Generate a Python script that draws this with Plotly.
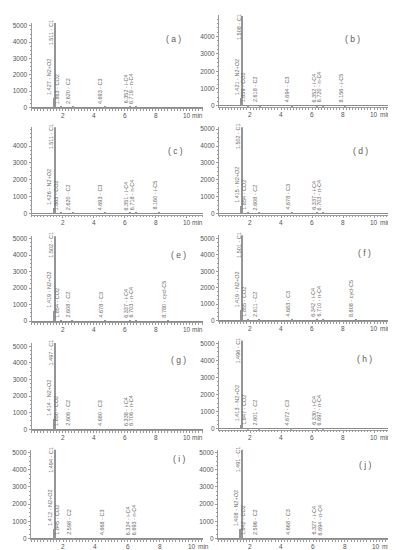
import plotly.graph_objects as go

# ---------------- data ----------------
panel_names = ["a", "b", "c", "d", "e", "f", "g", "h", "i", "j"]

comp7 = ["N2+O2", "C1", "CO2", "C2", "C3", "i-C4", "n-C4"]
comp_ic5 = comp7 + ["i-C5"]
comp_cy5 = comp7 + ["cycl-C5"]

rt_a = [1.427, 1.511, 1.863, 2.620, 4.693, 6.352, 6.719]
rt_b = [1.421, 1.508, 1.859, 2.618, 4.694, 6.352, 6.720, 8.156]
rt_c = [1.426, 1.511, 1.863, 2.620, 4.693, 6.351, 6.718, 8.160]
rt_d = [1.415, 1.502, 1.854, 2.608, 4.678, 6.337, 6.703]
rt_e = [1.419, 1.502, 1.854, 2.608, 4.678, 6.337, 6.703, 8.780]
rt_f = [1.419, 1.501, 1.855, 2.611, 4.683, 6.342, 6.710, 8.808]
rt_g = [1.414, 1.497, 1.850, 2.606, 4.680, 6.338, 6.706]
rt_h = [1.413, 1.496, 1.847, 2.601, 4.672, 6.330, 6.697]
rt_i = [1.412, 1.494, 1.845, 2.598, 4.668, 6.324, 6.693]
rt_j = [1.408, 1.491, 1.842, 2.596, 4.668, 6.327, 6.694]

h_a = [550, 5200, 30, 30, 30, 30, 30]
h_b = [450, 5200, 30, 30, 30, 30, 30, 30]
h_c = [300, 5200, 30, 30, 30, 30, 30, 30]
h_d = [450, 5200, 30, 30, 30, 30, 30]
h_e = [600, 5200, 30, 30, 30, 30, 30, 30]
h_f = [600, 5200, 30, 30, 30, 30, 30, 30]
h_g = [650, 5200, 30, 30, 30, 30, 30]
h_h = [250, 5200, 30, 30, 30, 30, 30]
h_i = [550, 5200, 30, 30, 30, 30, 30]
h_j = [550, 5200, 30, 30, 30, 30, 30]

comps = [comp7, comp_ic5, comp_ic5, comp7, comp_cy5, comp_cy5, comp7, comp7, comp7, comp7]
rts = [rt_a, rt_b, rt_c, rt_d, rt_e, rt_f, rt_g, rt_h, rt_i, rt_j]
hs = [h_a, h_b, h_c, h_d, h_e, h_f, h_g, h_h, h_i, h_j]

x_tickvals = [2, 4, 6, 8, 10]
x_ticktext = ["2", "4", "6", "8", "10"]
x_unit = "min"
y_ticks_full = [0, 1000, 2000, 3000, 4000, 5000]
y_ticks_4k = [0, 1000, 2000, 3000, 4000]

# ---------------- layout geometry (pixels) ----------------
W, H = 396, 550
# x_left, x_right, xmax, y_zero_px, px_per_1000, top_px, yticks, letter_x, letter_y
geo = [
    (23.5, 195, 11.06, 98.0, 16.4, 13, y_ticks_full, 165, 29),
    (211, 380, 10.90, 96.7, 17.5, 5, y_ticks_4k, 344, 29),
    (23.5, 195, 11.06, 205.0, 17.0, 118, y_ticks_4k, 167, 142),
    (211, 380, 10.90, 205.0, 17.0, 118, y_ticks_full, 352, 142),
    (23.5, 195, 11.06, 313.3, 16.6, 228, y_ticks_full, 170, 247),
    (211, 380, 10.90, 312.7, 16.5, 227, y_ticks_full, 356, 245),
    (23.5, 195, 11.06, 422.3, 16.7, 335, y_ticks_full, 170, 353),
    (211, 380, 10.90, 421.7, 17.2, 333, y_ticks_full, 356, 352),
    (23.0, 195, 10.68, 532.3, 17.3, 443, y_ticks_full, 171, 452),
    (210, 381, 10.80, 532.3, 17.3, 443, y_ticks_full, 357, 458),
]
YMIN = -60
C1_LABEL_Y = 3650
XLAB_SHIFT = -7.5

axis_col = "#9a9a9a"
text_col = "#555555"
label_col = "#6a6a6a"
peak_col = "#959595"
font_fam = "Liberation Sans, Arial, sans-serif"
tick_font = dict(size=6.5, color=text_col, family=font_fam)

fig = go.Figure()
layout = {}
annotations = []

for k, (name, comp, rt, hh, g) in enumerate(zip(panel_names, comps, rts, hs, geo)):
    n = k + 1
    sfx = "" if n == 1 else str(n)
    xl, xr, xmax, y0, step, top, yticks, lx, ly = g
    ymax = (y0 - top) / step * 1000.0
    bottom = y0 - YMIN * step / 1000.0

    fig.add_trace(go.Bar(
        x=rt, y=hh, width=0.065,
        marker=dict(color=peak_col, line=dict(width=0)),
        xaxis="x" + sfx, yaxis="y" + sfx, showlegend=False, hoverinfo="skip",
    ))

    layout["xaxis" + sfx] = dict(
        domain=[xl / W, xr / W], range=[0, xmax], anchor="y" + sfx,
        showline=True, linecolor=axis_col, linewidth=1,
        showgrid=False, zeroline=False,
        tickmode="array", tickvals=x_tickvals, showticklabels=False,
        ticks="outside", ticklen=2, tickcolor=axis_col, tickwidth=1,
        minor=dict(tickmode="linear", tick0=0, dtick=0.2, ticks="outside",
                   ticklen=1.5, tickcolor=axis_col, showgrid=False),
        fixedrange=True,
    )
    layout["yaxis" + sfx] = dict(
        domain=[1 - bottom / H, 1 - top / H], range=[YMIN, ymax], anchor="x" + sfx,
        showline=True, linecolor=axis_col, linewidth=1,
        showgrid=False, zeroline=True, zerolinecolor="#8a8a8a", zerolinewidth=1,
        tickmode="array", tickvals=yticks, ticktext=[str(v) for v in yticks],
        ticks="outside", ticklen=2, tickcolor=axis_col, tickwidth=1,
        minor=dict(tickmode="linear", tick0=0, dtick=250, ticks="outside",
                   ticklen=1, tickcolor=axis_col, showgrid=False),
        tickfont=tick_font,
        fixedrange=True,
    )

    # x tick labels (drawn at the axis tick values)
    for tv, tt in zip(x_tickvals, x_ticktext):
        annotations.append(dict(
            x=tv, y=0, xref="x" + sfx, yref="y" + sfx + " domain",
            text=tt, showarrow=False, xanchor="center", yanchor="middle",
            yshift=XLAB_SHIFT, font=tick_font,
        ))
    # unit after the last tick
    annotations.append(dict(
        x=x_tickvals[-1], y=0, xref="x" + sfx, yref="y" + sfx + " domain",
        text=x_unit, showarrow=False, xanchor="left", yanchor="middle",
        xshift=3.5, yshift=XLAB_SHIFT, font=tick_font,
    ))

    # panel letter
    annotations.append(dict(
        x=lx / W, y=1 - ly / H, xref="paper", yref="paper",
        text="( " + name + " )", showarrow=False, xanchor="center", yanchor="middle",
        font=dict(size=8.5, color="#5a5a5a", family=font_fam),
    ))

    # peak labels
    for t, hv, c in zip(rt, hh, comp):
        yl = C1_LABEL_Y if c == "C1" else hv
        annotations.append(dict(
            x=t, y=yl, xref="x" + sfx, yref="y" + sfx,
            text=f"{t:.3f} - {c}", showarrow=False, textangle=-90,
            xanchor="center", yanchor="bottom", xshift=-4, yshift=1,
            font=dict(size=5.5, color=label_col, family=font_fam),
        ))

fig.update_layout(
    width=W, height=H,
    margin=dict(l=0, r=0, t=0, b=0),
    paper_bgcolor="white", plot_bgcolor="white",
    bargap=0, showlegend=False,
    annotations=annotations,
    **layout,
)

fig.write_html("out.html")
